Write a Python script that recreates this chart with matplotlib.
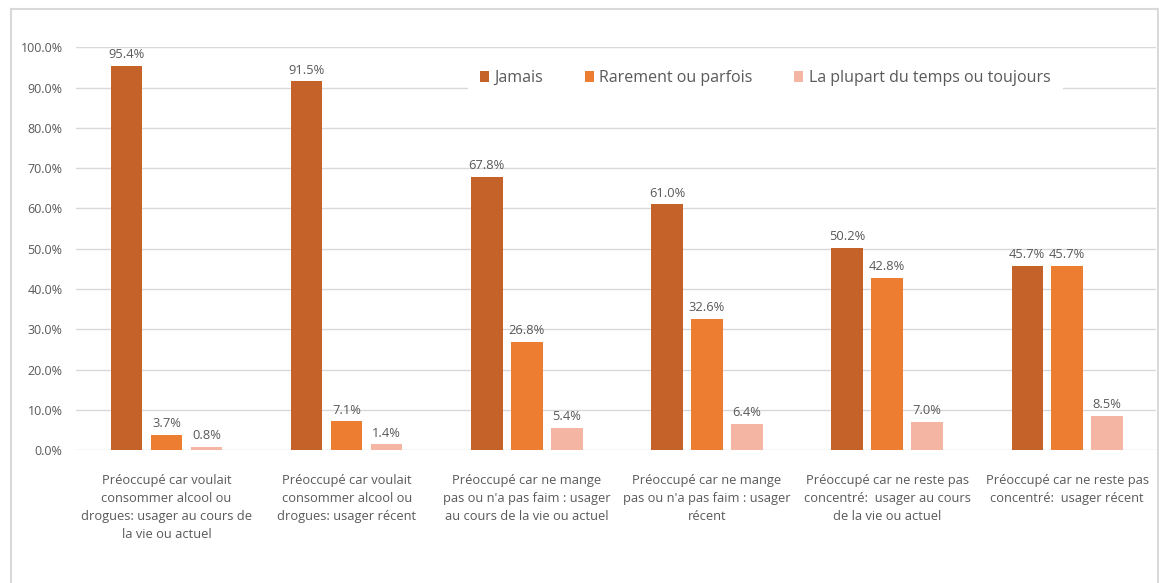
import matplotlib.pyplot as plt
import numpy as np
from matplotlib.lines import Line2D

plt.rcParams['font.family'] = ['Open Sans', 'DejaVu Sans']

categories = [
    "Préoccupé car voulait\nconsommer alcool ou\ndrogues: usager au cours de\nla vie ou actuel",
    "Préoccupé car voulait\nconsommer alcool ou\ndrogues: usager récent",
    "Préoccupé car ne mange\npas ou n'a pas faim : usager\nau cours de la vie ou actuel",
    "Préoccupé car ne mange\npas ou n'a pas faim : usager\nrécent",
    "Préoccupé car ne reste pas\nconcentré:  usager au cours\nde la vie ou actuel",
    "Préoccupé car ne reste pas\nconcentré:  usager récent",
]
series_names = ["Jamais", "Rarement ou parfois", "La plupart du temps ou toujours"]
jamais = [95.4, 91.5, 67.8, 61.0, 50.2, 45.7]
rarement = [3.7, 7.1, 26.8, 32.6, 42.8, 45.7]
plupart = [0.8, 1.4, 5.4, 6.4, 7.0, 8.5]
colors = ["#C4622A", "#ED7D31", "#F4B5A2"]

fig = plt.figure(figsize=(11.59, 5.83), dpi=100)
ax = fig.add_axes([0.066, 0.228, 0.931, 0.691])

x = np.arange(len(categories))
w = 0.175
step = 0.222
text_col = "#595959"
for i, (vals, name) in enumerate(zip([jamais, rarement, plupart], series_names)):
    bars = ax.bar(x + (i - 1) * step, vals, w, color=colors[i], label=name, zorder=3)
    for b, v in zip(bars, vals):
        ax.text(b.get_x() + b.get_width() / 2, v + 1.2, f"{v:.1f}%",
                ha='center', va='bottom', fontsize=9.3, color=text_col)

ax.set_ylim(0, 100)
ax.set_xlim(-0.5, 5.49)
ax.set_yticks(np.arange(0, 101, 10))
ax.set_yticklabels([f"{t:.1f}%" for t in range(0, 101, 10)], fontsize=9, color=text_col)
ax.set_xticks(x)
ax.set_xticklabels(categories, fontsize=9.3, color=text_col, linespacing=1.5)
ax.tick_params(length=0, axis='y', pad=10)
ax.tick_params(length=0, axis='x', pad=17)
ax.grid(axis='y', color='#D9D9D9', lw=1, zorder=0)
for s in ax.spines.values():
    s.set_visible(False)

leg = ax.legend(loc='center left', bbox_to_anchor=(0.355, 0.923), ncol=3, frameon=True,
                fontsize=11.5, handlelength=0.55, handleheight=0.65, handletextpad=0.35,
                columnspacing=2.6, borderpad=0.8, edgecolor='none', framealpha=1, fancybox=False)
for t in leg.get_texts():
    t.set_color(text_col)

# outer border
fig.add_artist(Line2D([0.0095, 0.0095], [0, 0.985], transform=fig.transFigure, color='#D9D9D9', lw=1.5))
fig.add_artist(Line2D([0.0095, 0.999], [0.985, 0.985], transform=fig.transFigure, color='#D9D9D9', lw=1.5))
fig.add_artist(Line2D([0.999, 0.999], [0, 0.985], transform=fig.transFigure, color='#D9D9D9', lw=1.5))

fig.savefig("out.png", dpi=100)
